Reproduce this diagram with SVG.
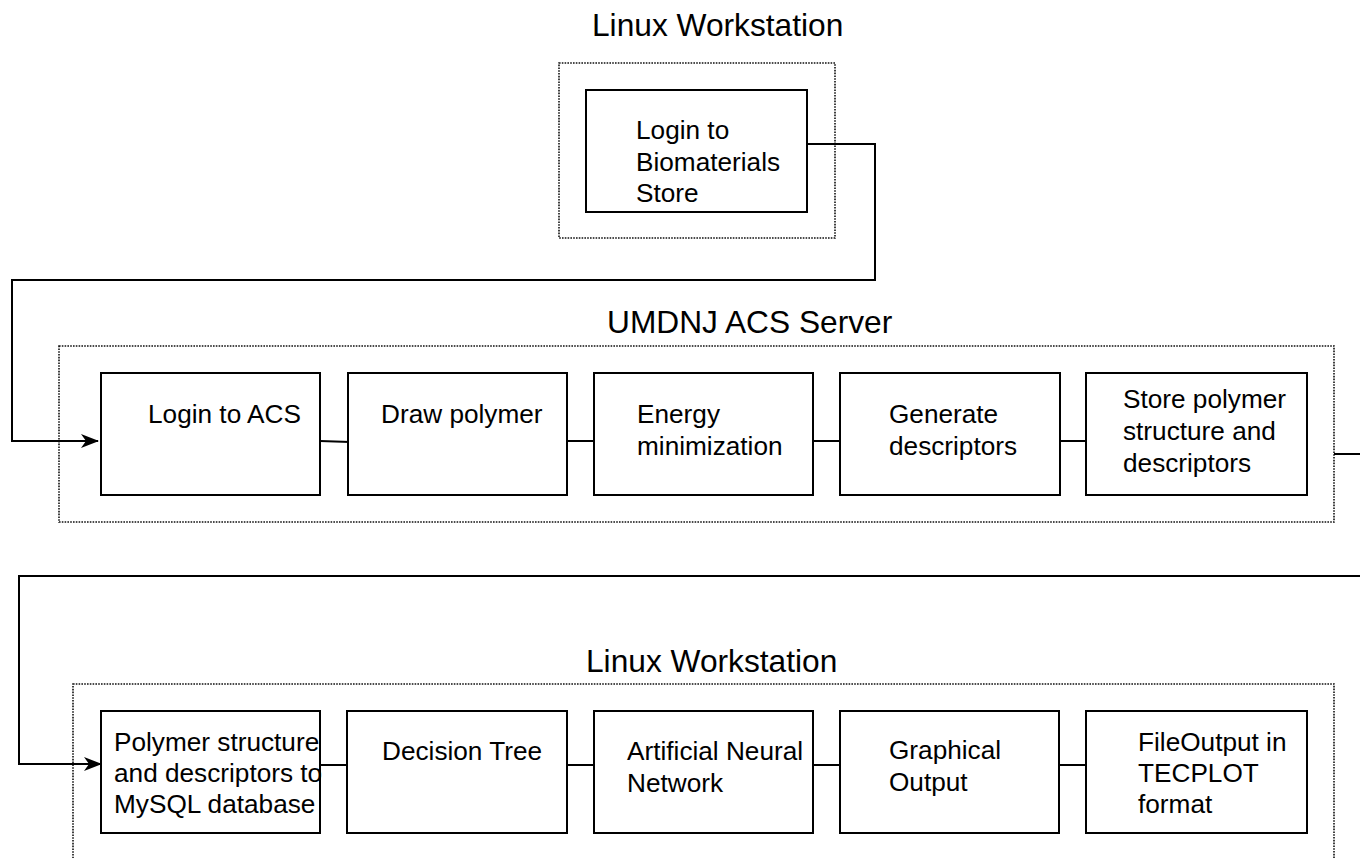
<svg xmlns="http://www.w3.org/2000/svg" width="1360" height="858" viewBox="0 0 1360 858">
  <style>
    .title { font-family: "Liberation Sans", Arial, sans-serif; font-size: 31.7px; fill: #000; }
    .label { font-family: "Liberation Sans", Arial, sans-serif; font-size: 26.2px; fill: #000; }
    .box { fill: #fff; stroke: #000; stroke-width: 2; }
    .zone { fill: none; stroke: #111; stroke-width: 1.6; stroke-dasharray: 1.6 1.2; }
    .link { fill: none; stroke: #000; stroke-width: 2; }
  </style>
  <defs>
    <marker id="arrow" markerWidth="18" markerHeight="16" refX="17" refY="8" orient="auto" markerUnits="userSpaceOnUse">
      <path d="M0,1 L18,8 L0,15 L5,8 Z" fill="#000"/>
    </marker>
  </defs>
  <rect width="1360" height="858" fill="#fff"/>

  <!-- zone titles -->
  <text class="title" x="592" y="36">Linux Workstation</text>
  <text class="title" x="607" y="333">UMDNJ ACS Server</text>
  <text class="title" x="586" y="672">Linux Workstation</text>

  <!-- zone outlines -->
  <rect class="zone" x="559" y="63" width="276" height="175"/>
  <rect class="zone" x="59" y="346" width="1275" height="176"/>
  <rect class="zone" x="73" y="684" width="1261" height="180"/>

  <!-- connectors -->
  <g id="connectors">
    <polyline class="link" points="807,144 875,144 875,280 12,280 12,441 98,441" marker-end="url(#arrow)"/>
    <line class="link" x1="320" y1="441" x2="350" y2="442"/>
    <line class="link" x1="567" y1="441" x2="594" y2="441"/>
    <line class="link" x1="813" y1="441" x2="840" y2="441"/>
    <line class="link" x1="1060" y1="441" x2="1086" y2="441"/>
    <line class="link" x1="1334" y1="454" x2="1360" y2="454"/>
    <polyline class="link" points="1360,576 19,576 19,764 101,764" marker-end="url(#arrow)"/>
    <line class="link" x1="320" y1="765" x2="347" y2="765"/>
    <line class="link" x1="567" y1="765" x2="594" y2="765"/>
    <line class="link" x1="813" y1="765" x2="840" y2="765"/>
    <line class="link" x1="1059" y1="765" x2="1086" y2="765"/>
  </g>

  <!-- first workstation -->
  <g id="login-store">
    <rect class="box" x="586" y="90" width="221" height="122"/>
    <text class="label" x="636" y="139">Login to</text>
    <text class="label" x="636" y="171">Biomaterials</text>
    <text class="label" x="636" y="202">Store</text>
  </g>

  <!-- ACS server steps -->
  <g id="login-acs">
    <rect class="box" x="101" y="373" width="219" height="122"/>
    <text class="label" x="148" y="423">Login to ACS</text>
  </g>
  <g id="draw-polymer">
    <rect class="box" x="348" y="373" width="219" height="122"/>
    <text class="label" x="381" y="423">Draw polymer</text>
  </g>
  <g id="energy-min">
    <rect class="box" x="594" y="373" width="219" height="122"/>
    <text class="label" x="637" y="423">Energy</text>
    <text class="label" x="637" y="455">minimization</text>
  </g>
  <g id="gen-descriptors">
    <rect class="box" x="840" y="373" width="220" height="122"/>
    <text class="label" x="889" y="423">Generate</text>
    <text class="label" x="889" y="455">descriptors</text>
  </g>
  <g id="store-polymer">
    <rect class="box" x="1086" y="373" width="221" height="122"/>
    <text class="label" x="1123" y="408">Store polymer</text>
    <text class="label" x="1123" y="440">structure and</text>
    <text class="label" x="1123" y="472">descriptors</text>
  </g>

  <!-- second workstation steps -->
  <g id="mysql">
    <rect class="box" x="101" y="711" width="219" height="122"/>
    <text class="label" x="114" y="751">Polymer structure</text>
    <text class="label" x="114" y="782">and descriptors to</text>
    <text class="label" x="114" y="813">MySQL database</text>
  </g>
  <g id="decision-tree">
    <rect class="box" x="347" y="711" width="220" height="122"/>
    <text class="label" x="382" y="760">Decision Tree</text>
  </g>
  <g id="ann">
    <rect class="box" x="594" y="711" width="219" height="122"/>
    <text class="label" x="627" y="760">Artificial Neural</text>
    <text class="label" x="627" y="792">Network</text>
  </g>
  <g id="graphical-output">
    <rect class="box" x="840" y="711" width="219" height="122"/>
    <text class="label" x="889" y="759">Graphical</text>
    <text class="label" x="889" y="791">Output</text>
  </g>
  <g id="file-output">
    <rect class="box" x="1086" y="711" width="221" height="122"/>
    <text class="label" x="1138" y="751">FileOutput in</text>
    <text class="label" x="1138" y="782">TECPLOT</text>
    <text class="label" x="1138" y="813">format</text>
  </g>
</svg>
